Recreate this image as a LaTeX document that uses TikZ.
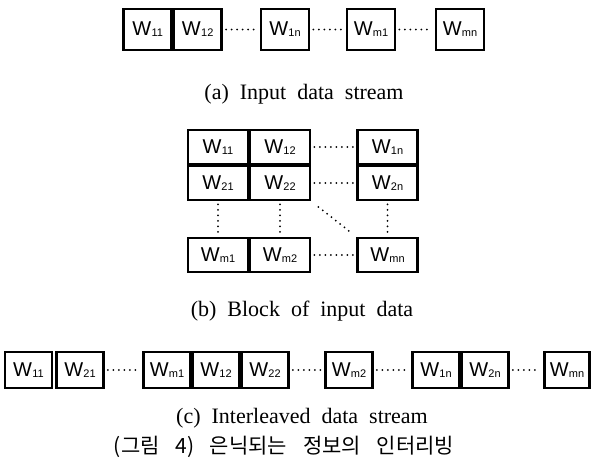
\documentclass[tikz,border=0pt]{standalone}
\usepackage{fontspec}
\setmainfont{Liberation Serif}
\newfontfamily\boxfont{Liberation Sans}
\newfontfamily\krfont{Noto Sans CJK KR}
\newcommand{\wsub}[1]{W\kern0.3pt\raisebox{-0.8pt}{\fontsize{11}{11}\selectfont #1}}
\newcommand{\capfont}{\fontsize{22}{22}\selectfont\spaceskip=0.5em\relax}
\newcommand{\krcapfont}{\krfont\fontsize{21}{21}\selectfont\spaceskip=0.75em\relax}
\begin{document}
\begin{tikzpicture}[x=1pt,y=1pt,
  cellbase/.style={draw, line width=2.8pt, inner sep=0pt, font=\boxfont\fontsize{20}{20}\selectfont},
  cella/.style={cellbase, minimum width=48pt, minimum height=41pt},
  cellb/.style={cellbase, minimum width=60pt, minimum height=34pt},
  cellc/.style={cellbase, minimum width=47pt, minimum height=36pt},
  dotline/.style={line width=2pt, line cap=round, dash pattern=on 0pt off 5.5pt, shorten <=3pt, shorten >=3pt},
  caption/.style={font=\capfont, inner sep=0pt}
]
\useasboundingbox (0,0) rectangle (592,-475);
% (a)
\node[cella] (a11) at (147.7,-29.5) {\wsub{11}};
\node[cella] (a12) at (197.7,-29.5) {\wsub{12}};
\node[cella] (a1n) at (285,-29.5) {\wsub{1n}};
\node[cella] (am1) at (371,-29.5) {\wsub{m1}};
\node[cella] (amn) at (460,-29.5) {\wsub{mn}};
\draw[dotline] (a12.east) -- (a1n.west);
\draw[dotline] (a1n.east) -- (am1.west);
\draw[dotline] (am1.east) -- (amn.west);
\node[caption] (capa) at (304,-94) {(a) Input data stream};
% (b)
\node[cellb] (b11) at (218,-147) {\wsub{11}};
\node[cellb] (b12) at (280,-147) {\wsub{12}};
\node[cellb] (b1n) at (387.5,-147) {\wsub{1n}};
\node[cellb] (b21) at (218,-183) {\wsub{21}};
\node[cellb] (b22) at (280,-183) {\wsub{22}};
\node[cellb] (b2n) at (387.5,-183) {\wsub{2n}};
\node[cellb] (bm1) at (218,-255) {\wsub{m1}};
\node[cellb] (bm2) at (280,-255) {\wsub{m2}};
\node[cellb] (bmn) at (387.5,-255) {\wsub{mn}};
\draw[dotline] (b12.east) -- (b1n.west);
\draw[dotline] (b22.east) -- (b2n.west);
\draw[dotline] (bm2.east) -- (bmn.west);
\draw[dotline] (b21.south) -- (bm1.north);
\draw[dotline] (b22.south) -- (bm2.north);
\draw[dotline] (b2n.south) -- (bmn.north);
\draw[dotline, shorten <=9pt, shorten >=9pt] (b22.south east) -- (bmn.north west);
\node[caption] (capb) at (302,-311) {(b) Block of input data};
% (c)
\node[cellc] (c11) at (28.5,-370) {\wsub{11}};
\node[cellc] (c21) at (80,-370) {\wsub{21}};
\node[cellc] (cm1) at (167,-370) {\wsub{m1}};
\node[cellc] (c12) at (216,-370) {\wsub{12}};
\node[cellc] (c22) at (265,-370) {\wsub{22}};
\node[cellc] (cm2) at (349,-370) {\wsub{m2}};
\node[cellc] (c1n) at (436,-370) {\wsub{1n}};
\node[cellc] (c2n) at (485,-370) {\wsub{2n}};
\node[cellc, minimum width=45pt] (cmn) at (567,-370) {\wsub{mn}};
\draw[dotline] (c21.east) -- (cm1.west);
\draw[dotline] (c22.east) -- (cm2.west);
\draw[dotline] (cm2.east) -- (c1n.west);
\draw[dotline] (c2n.east) -- (cmn.west);
\node[caption] (capc) at (302,-418) {(c) Interleaved data stream};
\node[font=\krcapfont, inner sep=0pt] (capk) at (284,-447) {(그림 4) 은닉되는 정보의 인터리빙};
\end{tikzpicture}
\end{document}
